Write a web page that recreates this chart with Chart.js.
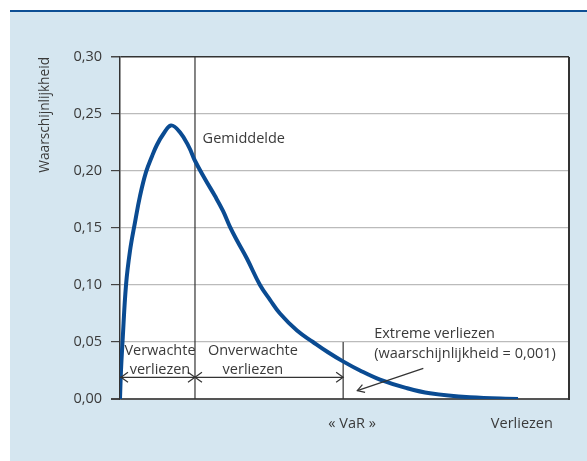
<!DOCTYPE html>
<html>
<head>
<meta charset="utf-8">
<script src="https://cdn.jsdelivr.net/npm/chart.js@4/dist/chart.umd.min.js"></script>
<style>
  html, body { margin: 0; padding: 0; background: #ffffff; }
  #wrap { width: 587px; height: 461px; }
</style>
</head>
<body>
<div id="wrap"><canvas id="c" width="587" height="461"></canvas></div>
<script>
// ---- data ----
const lossValues = [0, 0.22, 0.56, 1.34, 2.23, 3.34, 4.45, 5.79, 7.13, 8.24, 9.58, 11.36, 13.36, 15.37, 16.70, 18.93, 21.16, 22.94, 24.50, 26.06, 28.29, 31.18, 33.41, 35.63, 39.42, 42.98, 46.33, 49.67, 53.45, 57.91, 63.47, 69.04, 77.95, 88.64];
const probValues = [0, 0.025, 0.05, 0.10, 0.13, 0.155, 0.178, 0.199, 0.213, 0.223, 0.232, 0.240, 0.234, 0.221, 0.209, 0.193, 0.178, 0.165, 0.151, 0.139, 0.123, 0.10, 0.087, 0.075, 0.06, 0.05, 0.041, 0.033, 0.025, 0.017, 0.010, 0.005, 0.0015, 0];
const meanLoss = 16.7;
const varLoss = 49.7;
const varLineTop = 0.05;
const yTickValues = [0, 0.05, 0.10, 0.15, 0.20, 0.25, 0.30];
const yTitle = 'Waarschijnlijkheid';
const xTitle = 'Verliezen';
const labelMean = 'Gemiddelde';
const labelExpected = ['Verwachte', 'verliezen'];
const labelUnexpected = ['Onverwachte', 'verliezen'];
const labelExtreme = ['Extreme verliezen', '(waarschijnlijkheid = 0,001)'];
const labelVaR = '« VaR »';

const FONT = '"Open Sans", "Noto Sans", sans-serif';
const TXT = '#3a3a3a';

const curve = lossValues.map((x, i) => ({ x: x, y: probValues[i] }));

function arrowHead(ctx, x, y, dir) {
  ctx.beginPath();
  ctx.moveTo(x - dir * 7, y - 5);
  ctx.lineTo(x, y);
  ctx.lineTo(x - dir * 7, y + 5);
  ctx.stroke();
}

const decor = {
  id: 'decor',
  beforeDraw(chart) {
    const ctx = chart.ctx;
    const a = chart.chartArea;
    ctx.save();
    ctx.fillStyle = '#ffffff';
    ctx.fillRect(0, 0, chart.width, chart.height);
    ctx.fillStyle = '#d5e6f0';
    ctx.fillRect(10, 12, chart.width - 10, chart.height - 12);
    ctx.fillStyle = '#0d4f95';
    ctx.fillRect(10, 10, chart.width - 10, 2);
    ctx.fillStyle = '#ffffff';
    ctx.fillRect(a.left, a.top, a.right - a.left, a.bottom - a.top);
    ctx.restore();
  },
  afterDatasetsDraw(chart) {
    const ctx = chart.ctx;
    const a = chart.chartArea;
    const xs = chart.scales.x, ys = chart.scales.y;
    ctx.save();
    ctx.strokeStyle = '#333333';
    ctx.lineWidth = 2;
    ctx.beginPath();
    ctx.moveTo(a.right, a.top);
    ctx.lineTo(a.right, a.bottom + 1);
    ctx.stroke();

    ctx.fillStyle = TXT;
    ctx.textBaseline = 'middle';

    ctx.font = '13.7px ' + FONT;
    ctx.save();
    ctx.translate(45, a.top);
    ctx.rotate(-Math.PI / 2);
    ctx.textAlign = 'right';
    ctx.fillText(yTitle, 0, 0);
    ctx.restore();

    ctx.font = '14.5px ' + FONT;
    ctx.textAlign = 'left';
    ctx.fillText(labelMean, xs.getPixelForValue(18.4), ys.getPixelForValue(0.228));

    ctx.textAlign = 'center';
    ctx.fillText(labelExpected[0], xs.getPixelForValue(8.9), ys.getPixelForValue(0.042));
    ctx.fillText(labelExpected[1], xs.getPixelForValue(8.9), ys.getPixelForValue(0.0255));
    ctx.fillText(labelUnexpected[0], xs.getPixelForValue(29.6), ys.getPixelForValue(0.042));
    ctx.fillText(labelUnexpected[1], xs.getPixelForValue(29.6), ys.getPixelForValue(0.0255));

    ctx.textAlign = 'left';
    ctx.fillText(labelExtreme[0], xs.getPixelForValue(56.6), ys.getPixelForValue(0.057));
    ctx.fillText(labelExtreme[1], xs.getPixelForValue(56.6), ys.getPixelForValue(0.040));

    ctx.textAlign = 'center';
    ctx.fillText(labelVaR, xs.getPixelForValue(51.7), a.bottom + 25);
    ctx.fillText(xTitle, xs.getPixelForValue(89.5), a.bottom + 25);

    ctx.strokeStyle = '#333333';
    ctx.lineWidth = 1.2;
    const ay = ys.getPixelForValue(0.019);
    const x0 = xs.getPixelForValue(0), x1 = xs.getPixelForValue(meanLoss), x2 = xs.getPixelForValue(varLoss);
    ctx.beginPath();
    ctx.moveTo(x0, ay); ctx.lineTo(x2, ay);
    ctx.stroke();
    arrowHead(ctx, x0 + 1, ay, -1);
    arrowHead(ctx, x1, ay, 1);
    arrowHead(ctx, x1, ay, -1);
    arrowHead(ctx, x2, ay, 1);

    const ex0 = xs.getPixelForValue(67.55), ey0 = ys.getPixelForValue(0.0269);
    const ex1 = xs.getPixelForValue(52.85), ey1 = ys.getPixelForValue(0.0073);
    ctx.beginPath();
    ctx.moveTo(ex0, ey0); ctx.lineTo(ex1, ey1);
    ctx.stroke();
    const ang = Math.atan2(ey0 - ey1, ex0 - ex1);
    ctx.beginPath();
    ctx.moveTo(ex1 + 8 * Math.cos(ang - 0.55), ey1 + 8 * Math.sin(ang - 0.55));
    ctx.lineTo(ex1, ey1);
    ctx.lineTo(ex1 + 8 * Math.cos(ang + 0.55), ey1 + 8 * Math.sin(ang + 0.55));
    ctx.stroke();
    ctx.restore();
  }
};

new Chart(document.getElementById('c'), {
  type: 'scatter',
  data: {
    datasets: [
      {
        data: curve,
        showLine: true,
        borderColor: '#0a4b92',
        borderWidth: 4,
        pointRadius: 0,
        tension: 0.4,
        borderJoinStyle: 'round',
        order: 0
      },
      {
        data: [{ x: meanLoss, y: 0 }, { x: meanLoss, y: 0.30 }],
        showLine: true,
        borderColor: '#333333',
        borderWidth: 1.2,
        pointRadius: 0,
        order: 1
      },
      {
        data: [{ x: varLoss, y: 0 }, { x: varLoss, y: varLineTop }],
        showLine: true,
        borderColor: '#333333',
        borderWidth: 1.2,
        pointRadius: 0,
        order: 2
      }
    ]
  },
  options: {
    responsive: false,
    animation: false,
    devicePixelRatio: 1,
    layout: { padding: { left: 0, top: 57, right: 18, bottom: 62 } },
    plugins: { legend: { display: false }, tooltip: { enabled: false } },
    scales: {
      x: { type: 'linear', min: 0, max: 100, display: false },
      y: {
        type: 'linear', min: 0, max: 0.30,
        afterFit(scale) { scale.width = 120; },
        afterBuildTicks(scale) { scale.ticks = yTickValues.map(v => ({ value: v })); },
        ticks: {
          padding: 9,
          color: TXT,
          font: { family: FONT, size: 14.5 },
          callback: v => v.toFixed(2).replace('.', ',')
        },
        grid: {
          drawTicks: true,
          tickLength: 9,
          tickColor: '#444444',
          color: ctx => {
            const v = ctx.tick ? ctx.tick.value : 0;
            if (Math.abs(v - 0.30) < 1e-6) return '#333333';
            if (Math.abs(v) < 1e-6) return '#555555';
            return '#bbbbbb';
          },
          lineWidth: ctx => {
            const v = ctx.tick ? ctx.tick.value : 0;
            if (Math.abs(v) < 1e-6) return 2;
            if (Math.abs(v - 0.30) < 1e-6) return 1.5;
            return 1.2;
          }
        },
        border: { display: true, color: '#333333', width: 1.5 }
      }
    }
  },
  plugins: [decor]
});
</script>
</body>
</html>
